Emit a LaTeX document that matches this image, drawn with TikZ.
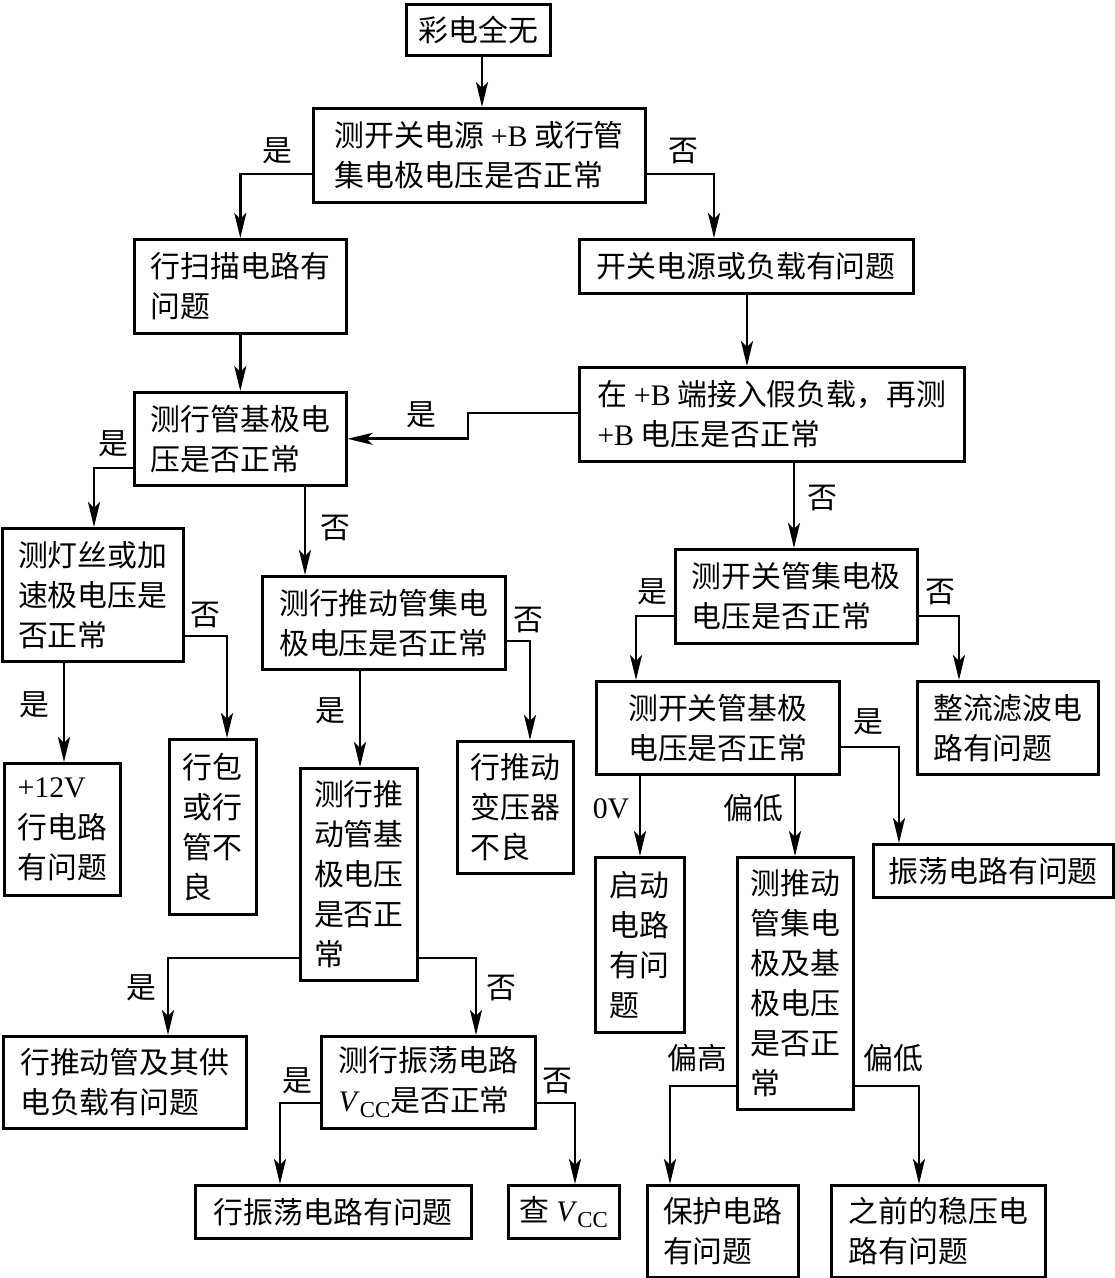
\documentclass[tikz,border=0pt]{standalone}
\usepackage{fontspec}
\setmainfont{Liberation Serif}
\newfontfamily\cjk{Noto Sans CJK SC}
\newfontfamily\lat{Liberation Serif}
\usetikzlibrary{arrows.meta}
\newcommand{\vcc}{{\lat\textit{V}\raisebox{-0.45ex}{\fontsize{13}{13}\selectfont CC}}}
\begin{document}
\begin{tikzpicture}[x=0.02cm,y=-0.02cm,
    box/.style={draw,line width=1.5pt,anchor=north west,align=left,inner sep=0pt,font=\cjk\fontsize{17}{22.8}\selectfont},
    lbl/.style={inner sep=0pt,font=\cjk\fontsize{17}{22.8}\selectfont},
    arr/.style={line width=1.5pt,-{Stealth[length=0.5cm,width=0.24cm,inset=0.12cm]}}]
    \useasboundingbox (0,0) rectangle (1115,1278);
    % main column
    \node[box,minimum width=2.88cm,minimum height=1.02cm] (start) at (405,3) {彩电全无};
    \node[box,minimum width=6.64cm,minimum height=1.88cm] (testB) at (312,107) {测开关电源 {\lat +B} 或行管\\集电极电压是否正常};
    \node[box,minimum width=4.24cm,minimum height=1.88cm] (scanbad) at (133,238) {行扫描电路有\\问题};
    \node[box,minimum width=6.68cm,minimum height=1.08cm] (psubad) at (578,238) {开关电源或负载有问题};
    \node[box,minimum width=7.70cm,minimum height=1.88cm] (dummy) at (578,366) {在 {\lat +B} 端接入假负载，再测\\{\lat +B} 电压是否正常};
    \node[box,minimum width=4.24cm,minimum height=1.86cm] (basev) at (133,391) {测行管基极电\\压是否正常};
    % left branch
    \node[box,minimum width=3.62cm,minimum height=2.66cm] (filament) at (1,527) {测灯丝或加\\速极电压是\\否正常};
    \node[box,minimum width=4.86cm,minimum height=1.86cm] (drvc) at (261,575) {测行推动管集电\\极电压是否正常};
    \node[box,minimum width=1.74cm,minimum height=3.50cm] (flyback) at (168,738) {行包\\或行\\管不\\良};
    \node[box,minimum width=2.32cm,minimum height=2.64cm] (drvtrans) at (456,740) {行推动\\变压器\\不良};
    \node[box,minimum width=2.32cm,minimum height=2.64cm] (v12) at (3,762) {{\lat +12V}\\行电路\\有问题};
    \node[box,minimum width=2.34cm,minimum height=4.24cm] (drvb) at (299,767) {测行推\\动管基\\极电压\\是否正\\常};
    \node[box,minimum width=4.86cm,minimum height=1.84cm] (drvload) at (2,1035) {行推动管及其供\\电负载有问题};
    \node[box,minimum width=4.28cm,minimum height=1.84cm] (osc) at (320,1035) {测行振荡电路\\\vcc 是否正常};
    \node[box,minimum width=5.52cm,minimum height=1.06cm] (oscbad) at (194,1184) {行振荡电路有问题};
    \node[box,minimum width=2.22cm,minimum height=1.06cm] (chkvcc) at (507,1184) {查 \vcc};
    % right branch
    \node[box,minimum width=4.84cm,minimum height=1.88cm] (swc) at (674,548) {测开关管集电极\\电压是否正常};
    \node[box,minimum width=4.86cm,minimum height=1.86cm] (swb) at (595,680) {测开关管基极\\电压是否正常};
    \node[box,minimum width=3.62cm,minimum height=1.86cm] (rect) at (916,680) {整流滤波电\\路有问题};
    \node[box,minimum width=4.80cm,minimum height=1.06cm] (oscpsu) at (872,843) {振荡电路有问题};
    \node[box,minimum width=1.78cm,minimum height=3.50cm] (startup) at (594,856) {启动\\电路\\有问\\题};
    \node[box,minimum width=2.32cm,minimum height=5.04cm] (drvcb) at (736,856) {测推动\\管集电\\极及基\\极电压\\是否正\\常};
    \node[box,minimum width=3.02cm,minimum height=1.84cm] (protect) at (646,1184) {保护电路\\有问题};
    \node[box,minimum width=4.28cm,minimum height=1.84cm] (regbad) at (830,1184) {之前的稳压电\\路有问题};
    % labels
    \node[lbl] (yes1) at (277,151) {是};
    \node[lbl] (no1) at (683,151) {否};
    \node[lbl] (yes2) at (421,415) {是};
    \node[lbl] (yes3) at (113,444) {是};
    \node[lbl] (no2) at (335,528) {否};
    \node[lbl] (no3) at (205,615) {否};
    \node[lbl] (no4) at (528,620) {否};
    \node[lbl] (yes4) at (34,705) {是};
    \node[lbl] (yes5) at (330,711) {是};
    \node[lbl] (yes6) at (141,988) {是};
    \node[lbl] (no5) at (501,988) {否};
    \node[lbl] (yes7) at (297,1081) {是};
    \node[lbl] (no6) at (557,1081) {否};
    \node[lbl] (no7) at (822,498) {否};
    \node[lbl] (yes8) at (652,592) {是};
    \node[lbl] (no8) at (940,592) {否};
    \node[lbl] (yes9) at (868,722) {是};
    \node[lbl] (zerov) at (611,809) {\lat 0V};
    \node[lbl] (low1) at (753,808) {偏低};
    \node[lbl] (high) at (697,1058) {偏高};
    \node[lbl] (low2) at (893,1058) {偏低};
    % connectors
    \draw[arr] (start.south -| 482,0) -- (testB.north -| 482,0);
    \draw[arr] (testB.west |- 0,174) -| (scanbad.north);
    \draw[arr] (testB.east |- 0,174) -| (psubad.north -| 714,0);
    \draw[arr] (scanbad.south) -- (basev.north);
    \draw[arr] (psubad.south -| 747,0) -- (dummy.north -| 747,0);
    \draw[arr] (dummy.west |- 0,413) -- (468,413) |- (basev.east);
    \draw[arr] (basev.west |- 0,468) -| (filament.north -| 94,0);
    \draw[arr] (basev.south -| 305,0) -- (drvc.north -| 305,0);
    \draw[arr] (filament.east |- 0,636) -| (flyback.north -| 227,0);
    \draw[arr] (drvc.east |- 0,641) -| (drvtrans.north -| 530,0);
    \draw[arr] (filament.south -| 64,0) -- (v12.north -| 64,0);
    \draw[arr] (drvc.south -| 360,0) -- (drvb.north -| 360,0);
    \draw[arr] (drvb.west |- 0,958) -| (drvload.north -| 168,0);
    \draw[arr] (drvb.east |- 0,958) -| (osc.north -| 476,0);
    \draw[arr] (osc.west |- 0,1103) -| (oscbad.north -| 280,0);
    \draw[arr] (osc.east |- 0,1103) -| (chkvcc.north -| 575,0);
    \draw[arr] (dummy.south -| 794,0) -- (swc.north -| 794,0);
    \draw[arr] (swc.west |- 0,616) -| (swb.north -| 636,0);
    \draw[arr] (swc.east |- 0,616) -| (rect.north -| 959,0);
    \draw[arr] (swb.east |- 0,747) -| (oscpsu.north -| 899,0);
    \draw[arr] (swb.south -| 640,0) -- (startup.north -| 640,0);
    \draw[arr] (swb.south -| 795,0) -- (drvcb.north -| 795,0);
    \draw[arr] (drvcb.west |- 0,1086) -| (protect.north -| 670,0);
    \draw[arr] (drvcb.east |- 0,1086) -| (regbad.north -| 919,0);
\end{tikzpicture}
\end{document}
